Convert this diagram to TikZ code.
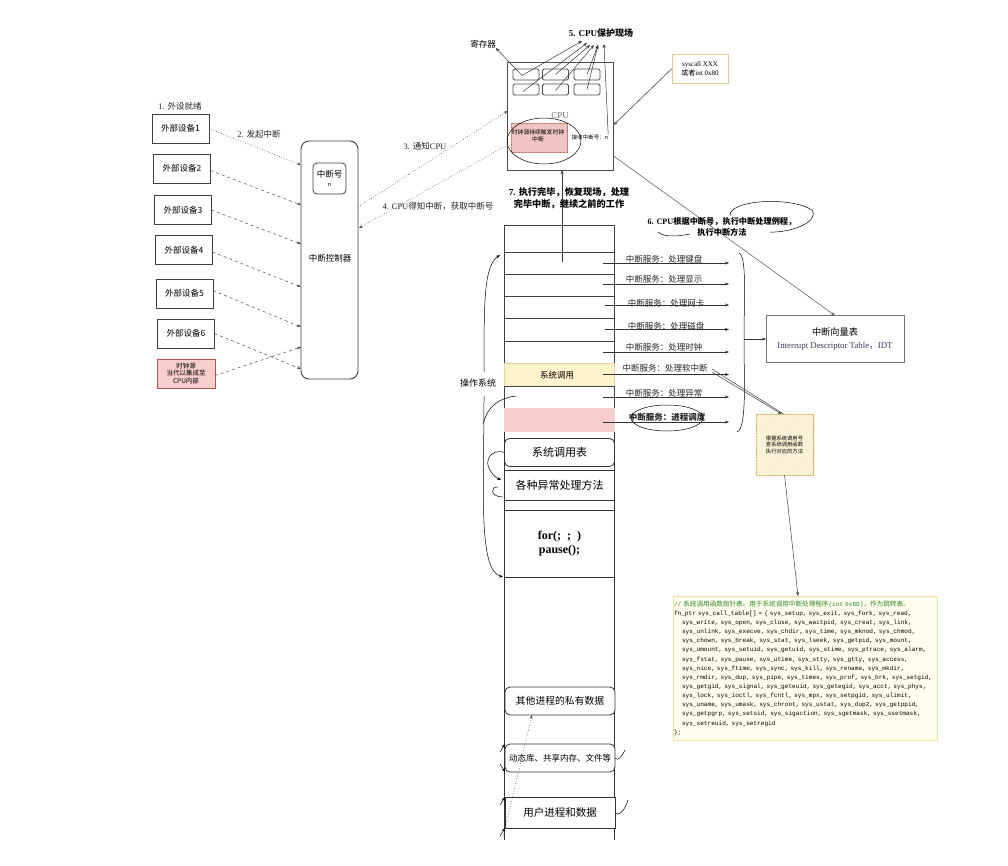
\documentclass[tikz,border=0pt]{standalone}
\usepackage{fontspec}
\setmainfont{Liberation Serif}
\newfontfamily\cjk{Noto Sans CJK SC}
\newfontfamily\mono{Liberation Mono}
\usetikzlibrary{arrows.meta,patterns,calc}
\definecolor{pinkf}{HTML}{F8CECC}
\definecolor{pinkd}{HTML}{B85450}
\definecolor{yelf}{HTML}{FFF2CC}
\definecolor{yeld}{HTML}{D6B656}
\definecolor{codebg}{HTML}{FFFDEE}
\definecolor{codeline}{HTML}{F3DFA0}
\definecolor{codegreen}{HTML}{2E8B2E}
\definecolor{idtblue}{HTML}{3A3A5C}
\newcommand\fsz[2]{\fontsize{#1}{#2}\selectfont}
\newcommand\cl[1]{\mbox{#1}}
\newcommand\ind{\hspace*{8pt}}
\begin{document}
\begin{tikzpicture}[x=1pt,y=-1pt,
  >={Stealth[length=4pt,width=3pt]},
  every node/.style={inner sep=0pt, outer sep=0pt},
  dev/.style={draw=black!75, line width=0.9pt, fill=white, minimum width=57pt, minimum height=29pt, font=\cjk\fsz{8.5}{10}},
  devarrow/.style={draw=black!70, dashed, line width=0.5pt, ->},
  dotarrow/.style={draw=black!70, dotted, line width=0.6pt, ->},
  reg/.style={draw=black!70, line width=0.8pt, rounded corners=1.5pt, minimum width=26pt, minimum height=11pt},
  thin/.style={draw=black!80, line width=0.5pt},
  rowbox/.style={draw=black!75, line width=0.8pt, minimum width=110pt},
  svc/.style={font=\cjk\fsz{8.5}{10}, text=black!85},
  svcarrow/.style={draw=black!80, line width=0.5pt, ->},
  membox/.style={draw=black!80, line width=0.8pt, fill=white, minimum width=110pt},
  hand/.style={draw=black, line width=0.5pt},
  lbl/.style={font=\fsz{8.5}{10}, text=black!85}
]
\useasboundingbox[fill=white] (0,0) rectangle (1008,865);

% ---------------- devices ----------------
\node[lbl] (l1) at (180,106) {1. {\cjk 外设就绪}};
\node[lbl] (l2) at (259,134) {2. {\cjk 发起中断}};
\node[dev] (d1) at (180.5,128.5) {外部设备1};
\node[dev] (d2) at (182,168.5) {外部设备2};
\node[dev] (d3) at (183,210) {外部设备3};
\node[dev] (d4) at (184,250) {外部设备4};
\node[dev] (d5) at (184.5,293.5) {外部设备5};
\node[dev] (d6) at (186,333.5) {外部设备6};
\node[draw=pinkd, fill=pinkf, line width=0.6pt, minimum width=58pt, minimum height=29pt, align=center, font=\cjk\fsz{6.5}{7.5}] (clk) at (186,373.5) {时钟源\\当代以集成至\\CPU内部};

\node[draw=black!75, line width=0.9pt, rounded corners=8pt, minimum width=57pt, minimum height=238pt] (ctrl) at (329.5,260) {};
\node[font=\cjk\fsz{8.5}{10}] (ctrllab) at (330,258) {中断控制器};
\node[draw=black!75, line width=0.8pt, rounded corners=4pt, minimum width=33pt, minimum height=31pt, align=center, font=\cjk\fsz{8.5}{10}] (irqno) at (329.5,178.5) {中断号\\[-1pt]{\fsz{5.5}{6}n}};

\coordinate (c1) at (301,165);
\coordinate (c2) at (301,205);
\coordinate (c3) at (301,244);
\coordinate (c4) at (301,287);
\coordinate (c5) at (301,327);
\coordinate (c6) at (301,369);
\coordinate (c7) at (301,347);
\draw[dotarrow] (d1.east) -- (c1);
\draw[devarrow] ([yshift=-2pt]d2.east) -- (c2);
\draw[devarrow] (d3.east) -- (c3);
\draw[devarrow] ([yshift=-2pt]d4.east) -- (c4);
\draw[devarrow] ([yshift=3pt]d5.east) -- (c5);
\draw[devarrow] (d6.east) -- (c6);
\draw[devarrow] ([yshift=-2pt]clk.east) -- (c7);

% ---------------- CPU ----------------
\node[draw=black!70, line width=0.9pt, minimum width=106pt, minimum height=108pt] (cpu) at (560.5,116) {};
\node[font=\fsz{9}{10}, text=black!60] (cpulab) at (560,116) {CPU};
\node[reg] (r1) at (526,74.5) {};
\node[reg] (r2) at (555.5,74.5) {};
\node[reg] (r3) at (587,74.5) {};
\node[reg] (r4) at (526,89.5) {};
\node[reg] (r5) at (555.5,89.5) {};
\node[reg] (r6) at (587,89.5) {};
\node[draw=pinkd!80, line width=0.8pt, fill=pinkf, postaction={pattern=north east lines, pattern color=pinkd!45}, minimum width=56pt, minimum height=29pt] (clkin) at (539,137.5) {};
\node[align=center, font=\cjk\fsz{5.8}{7}] (clkintxt) at (538,136) {时钟源持续触发时钟\\中断};
\draw[hand] (544,141) ellipse (37 and 23);
\node[font=\cjk\fsz{5.5}{6.5}] (recv) at (590,137) {接收中断号：n};

\node[font=\cjk\fsz{8.5}{10}] (reglab) at (483,44) {寄存器};
\node[font=\bfseries\fsz{9}{10}] (save) at (601,33) {5. CPU{\cjk\bfseries 保护现场}};
\coordinate (h1) at (582,41);
\coordinate (h2) at (587,43);
\coordinate (h3) at (590,45);
\coordinate (h4) at (594,45);
\coordinate (h5) at (598,45);
\coordinate (h6) at (604,44);
\draw[thin,->] ([shift={(-4pt,-1pt)}]r1.center) -- (reglab.south east);
\draw[thin,->] ([shift={(-4pt,-1pt)}]r1.center) -- (h1);
\draw[thin,->] ([shift={(-3pt,-2pt)}]r4.center) -- (h2);
\draw[thin,->] (r2.center) -- (h3);
\draw[thin,->] ([yshift=-1pt]r5.center) -- (h4);
\draw[thin,->] (r3.center) -- (h5);
\draw[thin,->] (r6.center) -- (h5);
\draw[thin,->] (recv.north east) -- (h6);

% syscall box
\node[draw=yeld!70, line width=0.8pt, fill=white, minimum width=56pt, minimum height=29pt, align=center, font=\fsz{7}{9}] (sc) at (700,68.5) {syscall XXX\\{\cjk 或者}int 0x80};
\draw[draw=black!70, line width=0.6pt, ->] (sc.west) -- ([yshift=-9pt]cpu.east);

% controller <-> cpu
\coordinate (a3s) at (358,207);
\coordinate (a3e) at (507.5,111);
\coordinate (a4s) at (507.5,145);
\coordinate (a4e) at (359,228);
\draw[dotarrow] (a3s) -- (a3e);
\draw[dotarrow] (a4s) -- (a4e);
\node[lbl] (l3) at (425,146) {3. {\cjk 通知}CPU};
\node[lbl] (l4) at (438,206) {4. CPU{\cjk 得知中断，获取中断号}};

% ---------------- memory column ----------------
\draw[draw=black!80, line width=0.8pt] (504,840) -- (504,225) -- (614,225) -- (614,840);
\node[rowbox, minimum height=27pt] (row0) at (559,238.5) {};
\node[rowbox, minimum height=22pt] (row1) at (559,263) {};
\node[rowbox, minimum height=22pt] (row2) at (559,285) {};
\node[rowbox, minimum height=22pt] (row3) at (559,307) {};
\node[rowbox, minimum height=23pt] (row4) at (559,329.5) {};
\node[rowbox, minimum height=22pt] (row5) at (559,352) {};
\node[rowbox, minimum height=23pt, fill=yelf, draw=yeld!60] (row6) at (559,374.5) {};
\node[font=\cjk\fsz{8.5}{10}] (row6lab) at (557,375) {系统调用};
\node[rowbox, minimum height=22pt] (row7) at (559,397) {};
\node[rowbox, minimum height=23pt, fill=pinkf, draw=pinkf] (row8) at (559,419.5) {};

\draw[draw=black!80, line width=0.6pt, ->] (562,262) -- (cpu.south -| 562,0);

\node[font=\bfseries\fsz{9.2}{12}, align=center] (l7) at (569,198) {7. {\cjk\bfseries 执行完毕，恢复现场，处理}\\{\cjk\bfseries 完毕中断，继续之前的工作}};

\node[svc] (s1) at (664,259) {中断服务：处理键盘};
\node[svc] (s2) at (664,279) {中断服务：处理显示};
\node[svc] (s3) at (666,303) {中断服务：处理网卡};
\node[svc] (s4) at (666,326) {中断服务：处理磁盘};
\node[svc] (s5) at (664,347) {中断服务：处理时钟};
\node[svc] (s6) at (665,368.5) {中断服务：处理软中断};
\node[svc] (s7) at (664,393) {中断服务：处理异常};
\node[svc, font=\cjk\bfseries\fsz{8.5}{10}] (s8) at (667,417) {中断服务：进程调度};
\draw[hand] (667,418) ellipse (36 and 13);

\draw[svcarrow] ([xshift=44pt]row1.center) -- ++(126,0);
\draw[svcarrow] ([xshift=44pt,yshift=1pt]row2.center) -- ++(126,0);
\draw[svcarrow] ([xshift=46pt,yshift=2pt]row3.center) -- ++(124,0);
\draw[svcarrow] ([xshift=46pt]row4.center) -- ++(124,0);
\draw[svcarrow] ([xshift=44pt]row5.center) -- ++(126,0);
\draw[svcarrow] ([xshift=44pt]row6.center) -- ++(126,0);
\draw[svcarrow] ([xshift=44pt]row7.center) -- ++(126,0);
\draw[svcarrow] ([xshift=44pt,yshift=-2.5pt]row8.center) -- ++(126,0);

% right brace and IDT
\node[draw=black!55, line width=0.8pt, minimum width=138pt, minimum height=47pt, align=center] (idt) at (835,339) {{\cjk\fsz{9.2}{11}中断向量表}\\[1pt]{\fsz{8.8}{10}\color{idtblue}Interrupt Descriptor Table{\cjk ，}IDT}};
\draw[hand] (739,253) .. controls (747,256) and (744,300) .. (744,339) .. controls (744,380) and (747,428) .. (737,432);
\draw[draw=black!80, line width=0.5pt, ->] (744,339) -- (idt.west);
\draw[draw=black!60, line width=0.6pt, ->] ([yshift=-40pt]cpu.east) -- (idt.north);

\node[font=\bfseries\fsz{8.2}{11}, align=center] (l6) at (722,226.5) {6. CPU{\cjk\bfseries 根据中断号，执行中断处理例程，}\\{\cjk\bfseries 执行中断方法}};
\draw[hand] (730,216) .. controls (728,200) and (790,196) .. (812,210) .. controls (820,222) and (790,233) .. (770,232);
\draw[hand] (658,232) .. controls (665,238) and (680,236) .. (690,234);

% note box
\node[draw=yeld, line width=0.8pt, fill=yelf!60, postaction={pattern=north east lines, pattern color=yeld!35}, minimum width=57pt, minimum height=61pt, align=center, font=\cjk\fsz{5.3}{6.5}] (note) at (784.5,444.5) {根据系统调用号\\查系统调用函数\\执行对应的方法};
\coordinate (sw1) at (712,369);
\coordinate (sw2) at (712,372);
\draw[draw=black!75, line width=0.5pt] (sw1) -- ([xshift=-1pt]note.north);
\draw[draw=black!75, line width=0.5pt, ->] (sw2) -- ([xshift=-3pt]note.north);

% code block
\node[draw=codeline, fill=codebg, line width=0.8pt, anchor=north west, minimum width=264pt, minimum height=144pt, text width=262pt, align=left, inner xsep=1pt, font=\mono\fsz{6.1}{9.14}] (code) at (673,596) {%
\cl{\color{codegreen}// {\cjk\fsz{6.6}{9.14}系统调用函数指针表。用于系统调用中断处理程序}(int 0x80){\cjk\fsz{6.6}{9.14}，作为跳转表。}}\\
\cl{fn\_ptr sys\_call\_table[] = \{ sys\_setup, sys\_exit, sys\_fork, sys\_read,}\\
\cl{\ind sys\_write, sys\_open, sys\_close, sys\_waitpid, sys\_creat, sys\_link,}\\
\cl{\ind sys\_unlink, sys\_execve, sys\_chdir, sys\_time, sys\_mknod, sys\_chmod,}\\
\cl{\ind sys\_chown, sys\_break, sys\_stat, sys\_lseek, sys\_getpid, sys\_mount,}\\
\cl{\ind sys\_umount, sys\_setuid, sys\_getuid, sys\_stime, sys\_ptrace, sys\_alarm,}\\
\cl{\ind sys\_fstat, sys\_pause, sys\_utime, sys\_stty, sys\_gtty, sys\_access,}\\
\cl{\ind sys\_nice, sys\_ftime, sys\_sync, sys\_kill, sys\_rename, sys\_mkdir,}\\
\cl{\ind sys\_rmdir, sys\_dup, sys\_pipe, sys\_times, sys\_prof, sys\_brk, sys\_setgid,}\\
\cl{\ind sys\_getgid, sys\_signal, sys\_geteuid, sys\_getegid, sys\_acct, sys\_phys,}\\
\cl{\ind sys\_lock, sys\_ioctl, sys\_fcntl, sys\_mpx, sys\_setpgid, sys\_ulimit,}\\
\cl{\ind sys\_uname, sys\_umask, sys\_chroot, sys\_ustat, sys\_dup2, sys\_getppid,}\\
\cl{\ind sys\_getpgrp, sys\_setsid, sys\_sigaction, sys\_sgetmask, sys\_ssetmask,}\\
\cl{\ind sys\_setreuid, sys\_setregid}\\
\cl{\};}};
\draw[draw=black!75, line width=0.5pt, ->] (note.south) -- ([xshift=125pt]code.north west);

% lower memory contents
\node[membox, rounded corners=5pt, minimum height=28pt, font=\cjk\fsz{11}{12}] (systab) at (559.5,452.5) {系统调用表};
\node[membox, minimum height=30pt, font=\cjk\fsz{11}{12}] (exc) at (559.5,485) {各种异常处理方法};
\node[membox, minimum height=67pt, align=center, font=\bfseries\fsz{12}{14}] (loop) at (559.5,543.5) {for(; \ ; \ )\\pause();};
\node[membox, rounded corners=5pt, minimum height=28pt, font=\cjk\fsz{9.8}{11}] (other) at (560,701) {其他进程的私有数据};
\node[membox, rounded corners=5pt, minimum height=28pt, font=\cjk\fsz{8.5}{10}] (dyn) at (560,758) {动态库、共享内存、文件等};
\node[membox, minimum height=31pt, font=\cjk\fsz{10.5}{12}] (user) at (560,812.5) {用户进程和数据};

% left annotations
\node[font=\cjk\fsz{9}{10}] (os) at (478,383) {操作系统};
\draw[hand, ->] (484,372) .. controls (484,300) and (484,266) .. (500,255);
\draw[hand, ->] (484,396) .. controls (484,490) and (478,570) .. (503,577);
\draw[hand] (483,424) .. controls (488,405) and (500,398) .. (516,396);
\draw[hand, ->] (systab.west) .. controls (490,448) and (484,462) .. (490,470) .. controls (493,476) and (497,478) .. (501,480);
\draw[hand] (503,497) .. controls (490,497) and (490,486) .. (498,487);

\coordinate (u0) at (503,837);
\draw[draw=black!70, dotted, line width=0.6pt, ->] (u0) -- ([xshift=-28pt]other.south);
\draw[hand, ->] (500,752) -- (dyn.north west);
\draw[hand, ->] (500,764) -- (dyn.south west);
\draw[hand, ->] (500,805) -- (user.north west);
\draw[hand, ->] (500,836) -- (user.south west);
\draw[hand] (dyn.east) .. controls (618,762) and (622,756) .. (625,750);
\draw[hand] ([yshift=-1pt]user.east) .. controls (622,816) and (626,806) .. (628,800);
\end{tikzpicture}
\end{document}
